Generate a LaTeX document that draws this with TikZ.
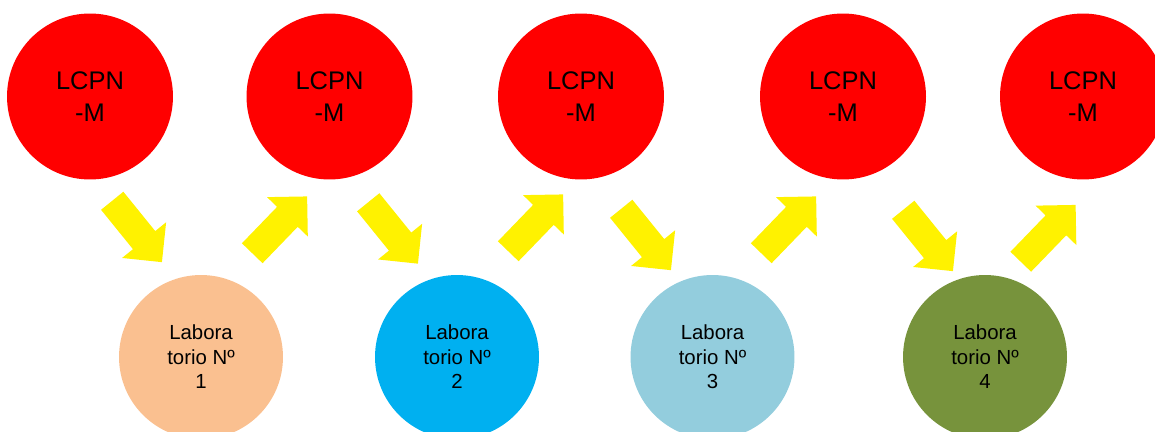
\documentclass[tikz,border=0pt]{standalone}
\usepackage{fontspec}
\setmainfont{Liberation Sans}
\usetikzlibrary{shapes.arrows}
\definecolor{labpeach}{HTML}{FAC090}
\definecolor{labblue}{HTML}{00B0F0}
\definecolor{lablight}{HTML}{93CDDD}
\definecolor{labgreen}{HTML}{77933C}
\tikzset{
  lcpn/.style={circle, fill=red, minimum size=3.32cm, inner sep=0pt,
    align=center, font=\fontsize{14.5}{18}\selectfont},
  lab/.style={circle, minimum size=3.28cm, inner sep=0pt,
    align=center, font=\fontsize{11.6}{14}\selectfont},
  blockarrow/.style={single arrow, fill=yellow, inner xsep=0pt, inner ysep=0.28cm,
    minimum height=1.58cm, single arrow head extend=0.28cm,
    single arrow tip angle=90, anchor=tail}
}
\begin{document}
\begin{tikzpicture}[x=0.02cm, y=-0.02cm]
        \useasboundingbox (0,0) rectangle (1155,432);
        \clip (0,0) rectangle (1155,432);
        % top row
        \node[lcpn] (m1) at (90,96.5) {LCPN\\-M};
        \node[lcpn] (m2) at (329.5,96.5) {LCPN\\-M};
        \node[lcpn] (m3) at (581,96.5) {LCPN\\-M};
        \node[lcpn] (m4) at (843,96.5) {LCPN\\-M};
        \node[lcpn] (m5) at (1083,96.5) {LCPN\\-M};
        % laboratorios
        \node[lab, fill=labpeach] (lab1) at (201,357) {Labora\\torio Nº\\1};
        \node[lab, fill=labblue] (lab2) at (457,357) {Labora\\torio Nº\\2};
        \node[lab, fill=lablight] (lab3) at (712.5,357) {Labora\\torio Nº\\3};
        \node[lab, fill=labgreen] (lab4) at (985,357) {Labora\\torio Nº\\4};
        % arrows
        \node[blockarrow, rotate=-51] (a1) at (112,200.5) {};
        \node[blockarrow, rotate=46] (a2) at (252,253.5) {};
        \node[blockarrow, rotate=-51] (a3) at (368,202) {};
        \node[blockarrow, rotate=46] (a4) at (508,251.5) {};
        \node[blockarrow, rotate=-51] (a5) at (621,208.5) {};
        \node[blockarrow, rotate=46] (a6) at (761,253.5) {};
        \node[blockarrow, rotate=-51] (a7) at (903,209.5) {};
        \node[blockarrow, rotate=46] (a8) at (1020.5,262) {};
    \end{tikzpicture}
\end{document}
